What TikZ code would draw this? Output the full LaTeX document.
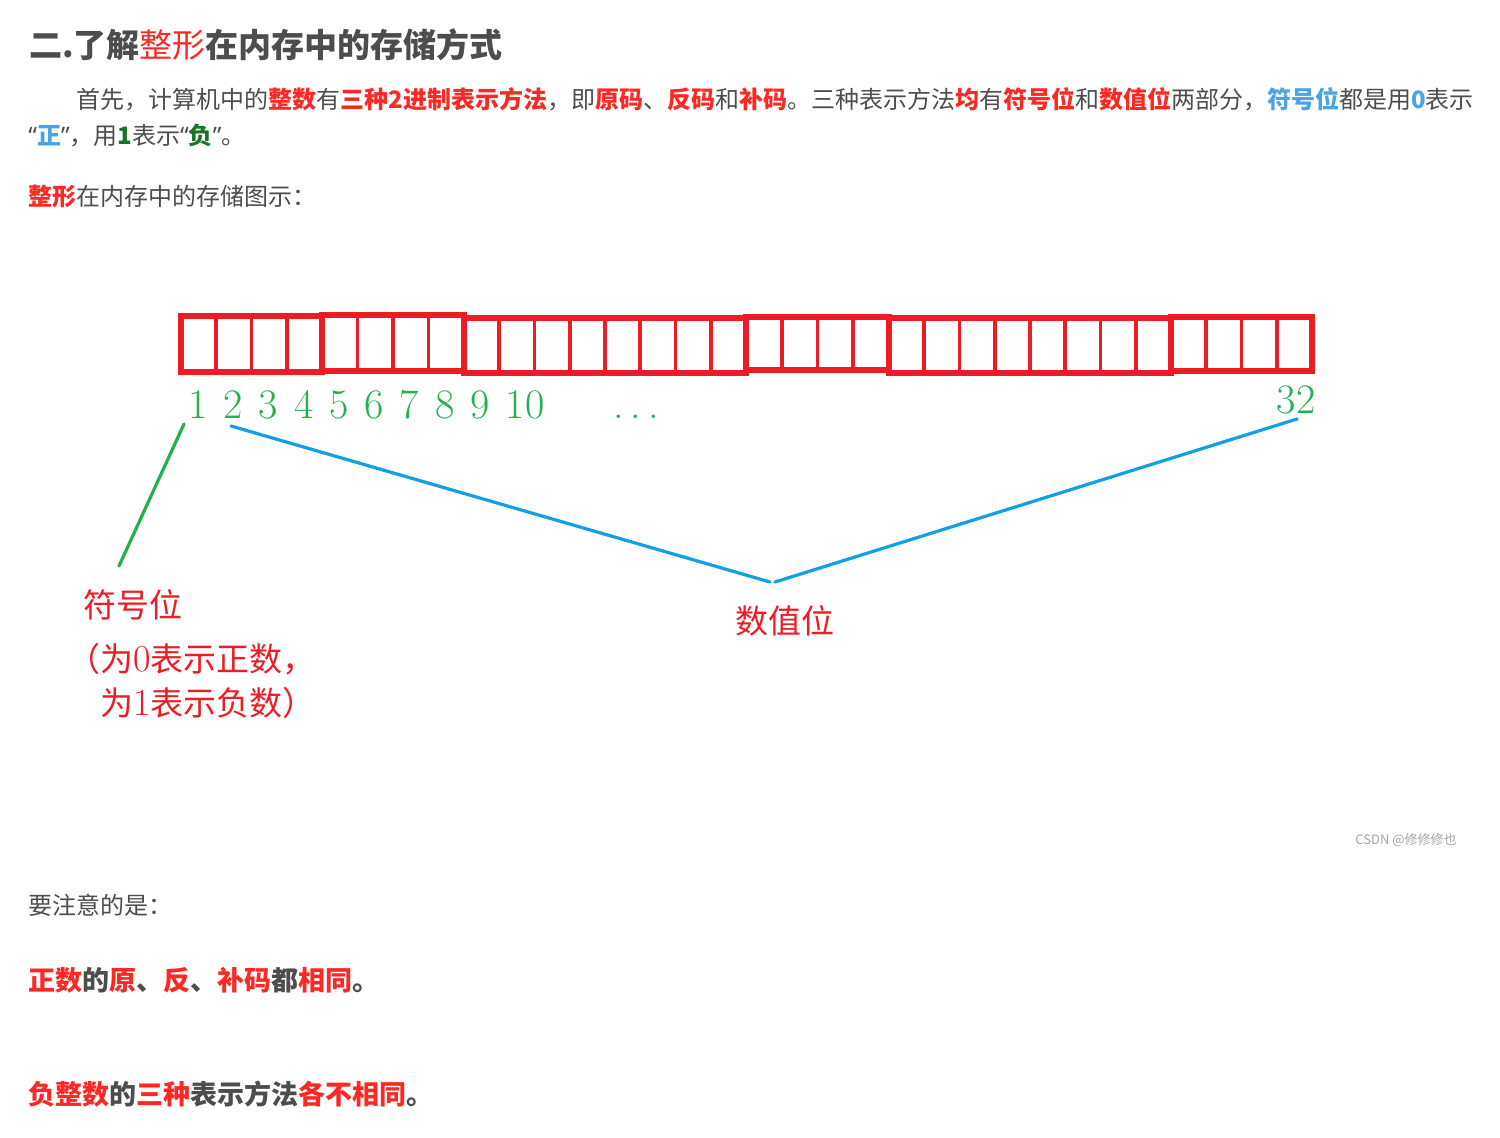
\documentclass[tikz,border=0pt]{standalone}
\usepackage{fontspec}
\newfontfamily\cjk{Noto Sans CJK SC}
\newfontfamily\lat{Noto Sans}
\definecolor{tgray}{RGB}{77,77,77}
\definecolor{tred}{RGB}{252,40,36}
\definecolor{tblue}{RGB}{74,163,232}
\definecolor{tgreen}{RGB}{22,118,36}
\definecolor{boxred}{RGB}{237,28,36}
\definecolor{lgreen}{RGB}{34,177,76}
\definecolor{lblue}{RGB}{16,160,230}
\definecolor{wgray}{RGB}{165,165,165}
\newcommand\rb[1]{{\color{tred}\bfseries #1}}
\newcommand\bb[1]{{\color{tblue}\bfseries #1}}
\newcommand\gb[1]{{\color{tgreen}\bfseries #1}}
\newcommand\myoq{{\lat “}}
\newcommand\mycq{{\lat ”}}
\newcommand\dg[1]{{\rmfamily\fontsize{19}{20}\selectfont #1}}
\begin{document}
\begin{tikzpicture}[x=0.5pt,y=-0.5pt,
  txt/.style={anchor=base west,inner sep=0pt,text=tgray},
  body/.style={txt,font=\cjk\fontsize{12}{14}\selectfont},
  note/.style={txt,font=\cjk\bfseries\fontsize{13.5}{15}\selectfont},
  lab/.style={anchor=base west,inner sep=0pt,text=boxred,font=\cjk\fontsize{16.5}{20}\selectfont},
  num/.style={anchor=base,inner sep=0pt,text=lgreen,font=\fontsize{21}{24}\selectfont},
  grp/.style={draw=boxred,line width=2.8pt},
  cellline/.style={draw=boxred,line width=1.9pt},
  gline/.style={draw=lgreen,line width=1.6pt,line cap=round},
  bline/.style={draw=lblue,line width=1.6pt,line cap=round}]
\useasboundingbox (0,0) rectangle (1500,1138);
\fill[white] (0,0) rectangle (1500,1138);

% title and paragraph
\node[txt,font=\cjk\bfseries\fontsize{16.5}{20}\selectfont] (title) at (29,58)
  {二.了解{\color{tred}\mdseries 整形}在内存中的存储方式};
\node[body] (p1) at (76,109)
  {首先，计算机中的\rb{整数}有\rb{三种2进制表示方法}，即\rb{原码}、\rb{反码}和\rb{补码}。三种表示方法\rb{均}有\rb{符号位}和\rb{数值位}两部分，\bb{符号位}都是用\bb{0}表示};
\node[body] (p2) at (28,145)
  {\myoq\bb{正}\mycq，用\gb{1}表示\myoq\gb{负}\mycq。};
\node[body] (p3) at (28,206) {\rb{整形}在内存中的存储图示：};

% register cells
\foreach \a/\b/\n/\t/\u in {181/322/4/316/372,322/464/4/315/371,464/746/8/318/373,746/889/4/317/370,889/1171/8/318/373,1171/1312/4/317/371}{
  \foreach \k in {1,...,\n}{
    \draw[cellline] ({\a+\k*(\b-\a)/\n},\t) -- ({\a+\k*(\b-\a)/\n},\u);
  }
  \draw[grp] (\a,\t) rectangle (\b,\u);
}

% bit numbers
\foreach \i/\x in {1/198,2/233,3/268,4/304,5/339,6/374,7/409,8/445,9/480,10/525}{
  \node[num] (n\i) at (\x,419) {\i};
}
\node[num] (ndots) at (636,419) {.\kern.17em.\kern.17em.};
\node[num] (n32) at (1296,414) {32};

% connectors
\coordinate (gs) at (184,424);
\coordinate (ge) at (119,566);
\coordinate (bs) at (231,426);
\coordinate (bm1) at (770,582);
\coordinate (bm2) at (775,582);
\coordinate (be) at (1297,419);
\draw[gline] (gs) -- (ge);
\draw[bline] (bs) -- (bm1);
\draw[bline] (bm2) -- (be);

% labels
\node[lab] (sign) at (83,618) {符号位};
\node[lab] (sign2) at (67,672) {（为\dg{0}表示正数，};
\node[lab] (sign3) at (100,716) {为\dg{1}表示负数）};
\node[lab] (val) at (735,634) {数值位};

% watermark
\node[anchor=base west,inner sep=0pt,text=wgray,font=\cjk\fontsize{6.5}{8}\selectfont] (wm) at (1355,844) {CSDN @修修修也};

% notes
\node[body] (n1) at (28,914) {要注意的是：};
\node[note] (n2) at (28,990) {\rb{正数}的\rb{原}、\rb{反}、\rb{补码}都\rb{相同}。};
\node[note] (n3) at (28,1104) {\rb{负整数}的\rb{三种}表示方法\rb{各不相同}。};
\end{tikzpicture}
\end{document}
